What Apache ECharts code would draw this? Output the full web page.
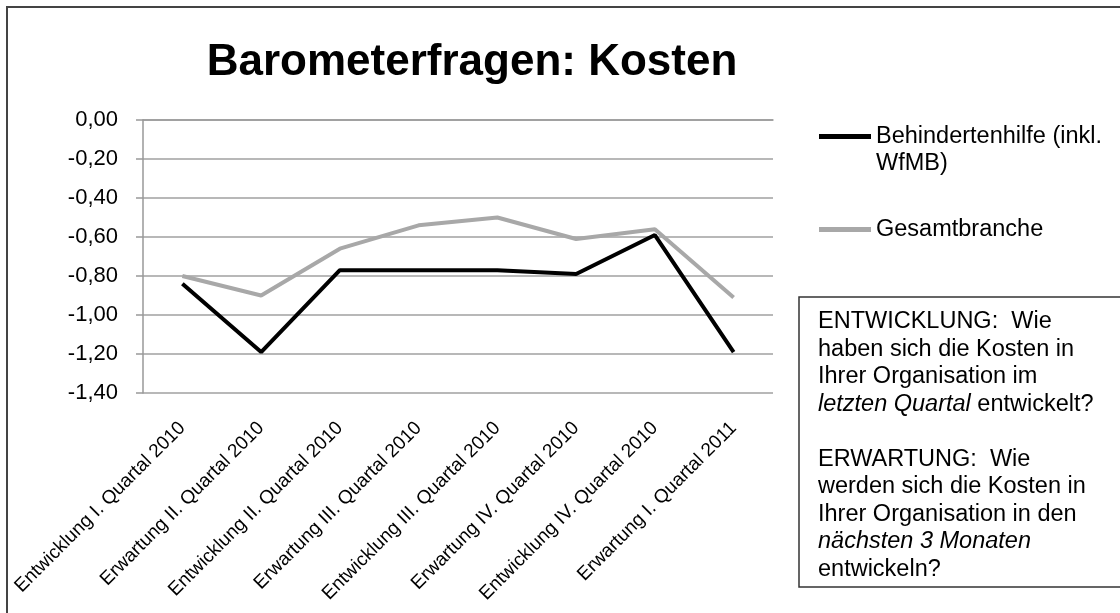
<!DOCTYPE html>
<html>
<head>
<meta charset="utf-8">
<script src="https://cdn.jsdelivr.net/npm/echarts@6/dist/echarts.min.js"></script>
<style>
  html, body { margin: 0; padding: 0; background: #fff; }
  #chart { width: 1120px; height: 613px; }
</style>
</head>
<body>
<div id="chart"></div>
<script>
const categories = [
  'Entwicklung I. Quartal 2010',
  'Erwartung II. Quartal 2010',
  'Entwicklung II. Quartal 2010',
  'Erwartung III. Quartal 2010',
  'Entwicklung III. Quartal 2010',
  'Erwartung IV. Quartal 2010',
  'Entwicklung IV. Quartal 2010',
  'Erwartung I. Quartal 2011',
]
const seriesNames = ['Behindertenhilfe (inkl. WfMB)', 'Gesamtbranche']
const behindertenhilfe = [-0.84, -1.19, -0.77, -0.77, -0.77, -0.79, -0.59, -1.19]
const gesamtbranche = [-0.80, -0.90, -0.66, -0.54, -0.50, -0.61, -0.56, -0.91]
const yMin = -1.4
const yMax = 0
const yStep = 0.2

const font = 'Liberation Sans, Arial, sans-serif'
const chart = echarts.init(document.getElementById('chart'))

const option = {
  animation: false,
  backgroundColor: '#fff',
  title: {
    text: 'Barometerfragen: Kosten',
    left: 467,
    top: 36,
    textAlign: 'center',
    textStyle: {
      color: '#000',
      fontSize: 44,
      fontWeight: 'bold',
      fontFamily: font,
    },
  },
  legend: {
    orient: 'vertical',
    left: 814,
    top: 91,
    itemWidth: 52,
    itemHeight: 5,
    itemGap: 39,
    icon: 'rect',
    data: seriesNames,
    // leading blank line keeps the icon level with the first text line
    formatter: (name) => name === seriesNames[0] ? ' \nBehindertenhilfe (inkl.\nWfMB)' : name,
    textStyle: {
      color: '#000',
      fontSize: 23.5,
      lineHeight: 27,
      fontFamily: font,
    },
  },
  grid: {
    left: 143,
    right: 347,
    top: 120,
    bottom: 220,
  },
  xAxis: {
    type: 'category',
    data: categories,
    boundaryGap: true,
    axisLine: { lineStyle: { color: '#999', width: 1.5 } },
    axisTick: { show: false },
    axisLabel: {
      interval: 0,
      rotate: 45,
      margin: 32,
      color: '#000',
      fontSize: 19,
      fontFamily: font,
    },
  },
  yAxis: {
    type: 'value',
    min: yMin,
    max: yMax,
    interval: yStep,
    axisLine: { show: true, lineStyle: { color: '#999', width: 1.5 } },
    axisTick: { show: true, inside: false, length: 7, lineStyle: { color: '#999', width: 1.5 } },
    splitLine: { lineStyle: { color: '#a0a0a0', width: 1.5 } },
    axisLabel: {
      margin: 25,
      color: '#000',
      fontSize: 22,
      fontFamily: font,
      formatter: (v) => v.toFixed(2).replace('.', ','),
    },
  },
  series: [
    {
      name: seriesNames[0],
      type: 'line',
      data: behindertenhilfe,
      symbol: 'none',
      color: '#000',
      lineStyle: { color: '#000', width: 4 },
    },
    {
      name: seriesNames[1],
      type: 'line',
      data: gesamtbranche,
      symbol: 'none',
      color: '#a8a8a8',
      lineStyle: { color: '#a8a8a8', width: 4 },
    },
  ],
  graphic: [
    {
      type: 'rect',
      shape: { x: 7, y: 7, width: 1300, height: 800 },
      style: { fill: 'none', stroke: '#444', lineWidth: 2 },
      silent: true,
    },
    {
      type: 'rect',
      shape: { x: 799, y: 297, width: 400, height: 290 },
      style: { fill: '#fff', stroke: '#333', lineWidth: 1.5 },
      silent: true,
    },
    {
      type: 'text',
      x: 818,
      y: 308,
      style: {
        text: [
          'ENTWICKLUNG:  Wie',
          'haben sich die Kosten in',
          'Ihrer Organisation im',
          '{i|letzten Quartal} entwickelt?',
          ' ',
          'ERWARTUNG:  Wie',
          'werden sich die Kosten in',
          'Ihrer Organisation in den',
          '{i|nächsten 3 Monaten}',
          'entwickeln?',
        ].join('\n'),
        fill: '#000',
        fontSize: 23.5,
        fontFamily: font,
        lineHeight: 27.5,
        rich: {
          i: { fontStyle: 'italic', fontSize: 23.5, fontFamily: font, lineHeight: 27.5 },
        },
      },
      silent: true,
    },
  ],
}

chart.setOption(option)
</script>
</body>
</html>
